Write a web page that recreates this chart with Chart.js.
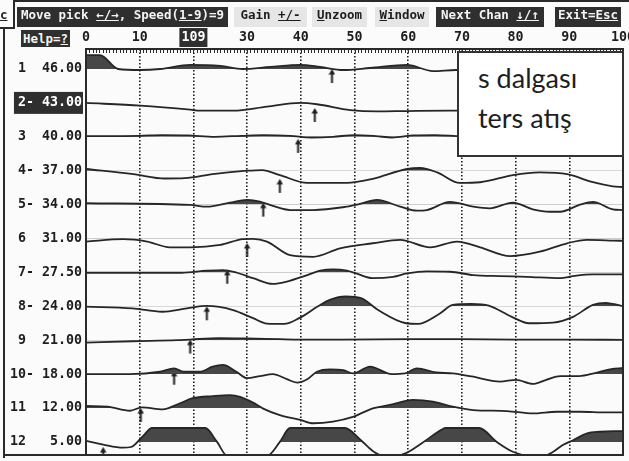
<!DOCTYPE html>
<html>
<head>
<meta charset="utf-8">
<script src="https://cdn.jsdelivr.net/npm/chart.js@4.4.0/dist/chart.umd.min.js"></script>
<style>
  html, body { margin: 0; padding: 0; background: #fbfbfb; }
  #wrap { position: relative; width: 629px; height: 461px; overflow: hidden; background: #fbfbfb; }
  #wrap canvas { position: absolute; left: 0; top: 0; }
  .btn { position: absolute; top: 7px; height: 20px; line-height: 20px; text-align: center;
         font: bold 12.5px 'DejaVu Sans Mono', monospace; white-space: pre; box-sizing: border-box; }
  .dark { background: #2f2f2f; color: #f4f4f4; }
  .light { background: #e6e6e6; color: #1e1e1e; }
  .rule { position: absolute; background: #2a2a2a; }
  #note { position: absolute; left: 457px; top: 51px; width: 167px; height: 106px; box-sizing: border-box;
          background: #fff; border: 2px solid #333; font-family: Lato, 'Open Sans', sans-serif; color: #1e1e1e; }
  #note div { position: absolute; left: 19px; font-size: 27px; line-height: 30px; white-space: nowrap; }
</style>
</head>
<body>
<div id="wrap">
  <canvas id="seis" width="629" height="461"></canvas>

  <!-- window frame -->
  <div class="rule" style="left:13px;top:0;width:616px;height:2px"></div>
  <div class="rule" style="left:13px;top:0;width:2px;height:28px"></div>
  <div class="rule" style="left:0;top:27px;width:15px;height:2px"></div>
  <div class="rule" style="left:3px;top:27px;width:2px;height:431px"></div>
  <div class="rule" style="left:3px;top:454px;width:84px;height:2px"></div>
  <div class="btn" style="left:0;top:7px;width:10px;text-align:left;color:#222"><u>c</u></div>

  <!-- menu bar -->
  <div class="btn dark" style="left:17px;width:211px">Move pick <u>←/→</u>, Speed(<u>1-9</u>)=9</div>
  <div class="btn light" style="left:234px;width:73px">Gain <u>+/-</u></div>
  <div class="btn light" style="left:312px;width:55px"><u>U</u>nzoom</div>
  <div class="btn light" style="left:375px;width:54px"><u>W</u>indow</div>
  <div class="btn dark" style="left:436px;width:108px">Next Chan <u>↓/↑</u></div>
  <div class="btn dark" style="left:555px;width:66px">Exit=<u>Esc</u></div>
  <div class="btn dark" style="left:21px;top:30px;height:17px;line-height:17px;width:49px">Help=<u>?</u></div>

  <div id="note">
    <div style="top:10px">s dalgası</div>
    <div style="top:50px">ters atış</div>
  </div>
</div>

<script>
// Channel labels (channel number, flag, offset in m)
const traceLabels = [' 1  46.00', ' 2- 43.00', ' 3  40.00', ' 4- 37.00', ' 5- 34.00', ' 6  31.00',
                     ' 7- 27.50', ' 8- 24.00', ' 9  21.00', '10- 18.00', '11  12.00', '12   5.00'];
const activeTrace = 2;

// Time axis (ms) ticks; the cursor readout replaces the 20 label
const xTickValues = [0, 10, 20, 30, 40, 50, 60, 70, 80, 90, 100];
const xTickLabels = ['0', '10', '109', '30', '40', '50', '60', '70', '80', '90', '100'];
const cursorTick = 20;

// Picked first arrivals: time and level of the arrow tip relative to the trace zero line
const pickTimes  = [45.8, 42.6, 39.5, 36.1, 33.0, 30.0, 26.3, 22.5, 19.4, 16.4, 10.2, 3.2];
const pickLevels = [0.0, -0.15, -0.06, -0.24, 0.06, -0.13, 0.08, 0.0, 0.02, 0.1, 0.0, -0.15];

// Wiggle traces: [time, amplitude] (amplitude in trace spacings, clipped display)
const trace01 = [[0,0.41],[2.6,0.41],[6.0,0.0],[10.1,-0.03],[13.8,0.0],[19.4,0.12],[25,0.09],[29.2,0.0],
  [34.3,0.06],[39.9,0.12],[43.6,0.06],[47.9,-0.03],[52.9,0.03],[59.8,0.12],[64.6,-0.06],[68.9,-0.03],[72,-0.03]];
const trace02 = [[0,0.0],[10.1,-0.08],[19.4,-0.2],[21.2,-0.23],[27.4,-0.23],[33.7,-0.11],[39.9,0.0],[43,-0.04],
  [49.2,-0.21],[54.2,-0.25],[59.8,-0.24],[67.8,-0.23],[72,-0.23]];
const trace03 = [[0,0.02],[10,0.03],[14,0.05],[19,0.04],[24,0.0],[29,0.03],[33,0.05],[38,0.03],[42,-0.02],
  [46,0.0],[50,0.05],[54,0.02],[57,-0.02],[61,0.04],[65,0.05],[69,0.02],[72,0.0]];
const trace04 = [[0,0.05],[8.8,-0.1],[14.7,-0.23],[18.4,-0.22],[23.6,-0.1],[30,0.0],[32.8,0.02],[36.1,-0.13],
  [41.2,-0.36],[48.6,-0.36],[53.4,-0.24],[59.8,0.05],[62.2,0.08],[65.4,-0.05],[69.6,-0.36],[73.4,-0.34],
  [79.5,-0.13],[84.5,-0.05],[89.6,-0.1],[94.4,-0.34],[98.1,-0.46],[100,-0.48]];
const trace05 = [[0,0.04],[19.4,-0.01],[22.5,-0.06],[26.8,0.06],[30,0.14],[32.4,0.09],[34.8,-0.04],[38,-0.16],
  [42.3,-0.16],[48.2,-0.07],[50.5,0.0],[54.2,0.14],[58.5,-0.06],[61.6,-0.18],[63.5,-0.16],[67.8,0.08],
  [72.1,-0.06],[75.2,-0.11],[79.5,0.06],[83.2,-0.14],[86.4,-0.21],[88.3,-0.21],[92,0.0],[94.4,0.08],
  [98.1,-0.14],[100,-0.16]];
const trace06 = [[0,-0.09],[6.9,-0.02],[11.4,-0.09],[15.6,-0.26],[19.4,-0.26],[25,-0.19],[29.2,-0.02],[31.1,-0.01],
  [33.7,-0.09],[38,-0.49],[42.3,-0.54],[47.3,-0.29],[53.4,-0.14],[58.5,-0.04],[64.1,-0.26],[69.1,-0.09],
  [73.4,-0.26],[79,-0.52],[84.5,-0.39],[89.6,-0.14],[93.3,-0.04],[98.1,-0.06],[100,-0.07]];
const trace07 = [[0,-0.01],[17.8,-0.01],[22.5,0.05],[25.5,0.07],[28.1,-0.01],[31.1,-0.17],[34.8,-0.34],[37.4,-0.27],
  [41.2,-0.08],[43.6,0.05],[46,0.09],[48.6,0.05],[50.3,-0.03],[53.4,-0.17],[57.2,-0.13],[59.8,-0.03],
  [63.5,0.03],[67.8,0.02],[72.1,-0.08],[77.1,-0.11],[82.1,-0.13],[88.3,-0.17],[90.7,-0.11],[94.4,-0.06],
  [98.1,-0.06],[100,-0.06]];
const trace08 = [[0,-0.01],[8.6,-0.06],[14.2,-0.16],[18.8,-0.06],[22.5,0.01],[27.4,-0.11],[31.1,-0.35],[33.7,-0.51],
  [36.9,-0.52],[39.7,-0.35],[43.2,0.0],[45.4,0.19],[48.4,0.29],[51.2,0.24],[54.4,-0.11],[59.6,-0.5],
  [61.8,-0.52],[65.9,-0.21],[68.3,0.04],[71.8,0.07],[75,0.02],[79.3,-0.31],[82.5,-0.5],[87,-0.48],
  [90.7,-0.31],[94.4,0.04],[96.8,0.1],[98.1,0.07],[100,0.01]];
const trace09 = [[0,-0.07],[8.6,-0.03],[17,0.0],[19.4,0.02],[24.8,0.06],[30,0.05],[36.1,0.03],[40,0.02],
  [47.5,0.02],[60,0.03],[70,0.03],[80,0.02],[90,0.02],[100,0.01]];
const trace10 = [[0,0.0],[8.2,0.0],[13.8,0.07],[16.4,0.17],[18.2,0.07],[21.2,0.07],[23.6,0.22],[25.5,0.27],
  [28,0.07],[30,-0.12],[32.4,-0.06],[34.8,0.0],[37.4,-0.15],[39.3,-0.25],[41.2,-0.15],[43,0.07],[45.4,0.14],
  [47.9,0.12],[49.7,0.02],[52.9,0.22],[56.9,0.0],[59.4,0.02],[61.6,0.17],[65.2,0.05],[68.3,0.02],
  [71.8,-0.07],[77.1,-0.22],[80.1,-0.17],[83.2,-0.29],[85.7,-0.17],[88.3,-0.06],[91.8,-0.06],[95,0.04],
  [97.8,0.15],[100,0.18]];
const trace11 = [[0,0.06],[4,0.04],[8.2,-0.08],[10.4,0.02],[14.3,-0.04],[17.5,0.14],[19.9,0.29],[23.6,0.35],
  [26.8,0.38],[28.7,0.33],[31.1,0.16],[32.9,-0.01],[36.1,-0.21],[39.9,-0.35],[42.3,-0.45],[46,-0.4],
  [49.7,-0.26],[51.2,-0.16],[53.4,-0.01],[56.6,0.09],[60.9,0.24],[64.6,0.19],[68.3,0.04],[72.1,-0.06],
  [78.4,-0.09],[83.2,-0.16],[87.7,-0.11],[92,-0.11],[97,-0.13],[100,-0.13]];
const trace12 = [[0,0.03],[3.2,-0.08],[6.9,-0.17],[8.4,-0.15],[10.6,0.17],[12.3,0.41],[22.2,0.41],[24.4,0.0],
  [26.3,-0.41],[33.7,-0.41],[36.1,0.0],[38,0.41],[48.2,0.41],[51.2,0.05],[53.6,-0.29],[55.5,-0.41],
  [57.7,-0.41],[59.6,-0.33],[62.6,-0.03],[66.1,0.35],[66.9,0.41],[73.2,0.41],[76.5,0.0],[79.5,-0.29],
  [82.7,-0.41],[85.2,-0.41],[87,-0.29],[88.8,-0.09],[90.7,0.05],[93.3,0.25],[95.7,0.3],[98.3,0.32],[100,0.32]];

const traces = [trace01, trace02, trace03, trace04, trace05, trace06,
                trace07, trace08, trace09, trace10, trace11, trace12];

const ink = '#262626';
const shade = '#474747';
const monoFont = { family: "'DejaVu Sans Mono', monospace", size: 13.3, weight: 'bold' };

// zero line of channel k (1-based); channel 1 on top
const base = k => traces.length - k;

// small upward pick arrow, tip at the vertical centre of the image
function arrowImage() {
  const c = document.createElement('canvas');
  c.width = 7; c.height = 30;
  const g = c.getContext('2d');
  g.fillStyle = '#1e1e1e';
  g.beginPath(); g.moveTo(3.5, 15); g.lineTo(0.3, 20.5); g.lineTo(6.7, 20.5); g.closePath(); g.fill();
  g.fillRect(2.5, 19, 2, 10);
  return c;
}

const datasets = traces.map((pts, i) => {
  const b = base(i + 1);
  return {
    data: pts.map(([t, a]) => ({ x: t, y: b + a })),
    borderColor: ink,
    borderWidth: 1.8,
    pointRadius: 0,
    cubicInterpolationMode: 'monotone',
    fill: { target: { value: b }, above: shade, below: 'rgba(0,0,0,0)' }
  };
});
datasets.push({
  data: pickTimes.map((t, i) => ({ x: t, y: base(i + 1) + pickLevels[i] })),
  showLine: false,
  fill: false,
  pointStyle: arrowImage(),
  pointRadius: 3
});

// time ruler along the top edge and the plot frame
const framePlugin = {
  id: 'frame',
  afterDatasetsDraw(chart) {
    const { ctx, chartArea: a, scales: { x } } = chart;
    ctx.save();
    ctx.strokeStyle = '#2a2a2a';
    ctx.lineWidth = 1;
    ctx.beginPath();
    for (let v = 0; v <= 100; v += 0.625) {
      const px = Math.round(x.getPixelForValue(v)) + 0.5;
      ctx.moveTo(px, a.top);
      ctx.lineTo(px, a.top + 4);
    }
    ctx.stroke();
    ctx.lineWidth = 2;
    ctx.strokeRect(a.left, a.top, a.right - a.left, a.bottom - a.top);
    ctx.restore();
  }
};

new Chart(document.getElementById('seis'), {
  type: 'line',
  data: { datasets },
  plugins: [framePlugin],
  options: {
    responsive: false,
    animation: false,
    layout: { padding: { top: 27, right: 6, bottom: 6, left: 0 } },
    plugins: { legend: { display: false }, tooltip: { enabled: false } },
    scales: {
      x: {
        type: 'linear',
        position: 'top',
        min: 0,
        max: 100,
        afterBuildTicks: s => { s.ticks = xTickValues.map(v => ({ value: v })); },
        afterFit: s => { s.height = 22; s.paddingLeft = 0; s.paddingRight = 0; },
        grid: { color: '#1e1e1e', lineWidth: 1.6, drawTicks: false },
        border: { display: false, dash: [1.5, 2] },
        ticks: {
          padding: 3,
          maxRotation: 0,
          autoSkip: false,
          font: monoFont,
          color: c => (c.tick && c.tick.value === cursorTick ? '#fff' : '#1e1e1e'),
          showLabelBackdrop: c => !!(c.tick && c.tick.value === cursorTick),
          backdropColor: '#2f2f2f',
          backdropPadding: { left: 2, right: 2, top: 2, bottom: 1 },
          callback: (v, i) => xTickLabels[i]
        }
      },
      y: {
        type: 'linear',
        position: 'left',
        min: -0.386,
        max: 11.59,
        afterBuildTicks: s => { s.ticks = traceLabels.map((_, i) => ({ value: base(i + 1) })); },
        afterFit: s => { s.width = 86; s.paddingTop = 0; s.paddingBottom = 0; },
        grid: { display: false, drawTicks: false },
        border: { display: false },
        ticks: {
          padding: 4,
          autoSkip: false,
          font: monoFont,
          color: c => (c.tick && c.tick.value === base(activeTrace) ? '#fff' : '#1e1e1e'),
          showLabelBackdrop: c => !!(c.tick && c.tick.value === base(activeTrace)),
          backdropColor: '#2f2f2f',
          backdropPadding: { left: -4, right: 1, top: 3, bottom: 3 },
          callback: v => traceLabels[traces.length - 1 - Math.round(v)]
        }
      }
    }
  }
});
</script>
</body>
</html>
